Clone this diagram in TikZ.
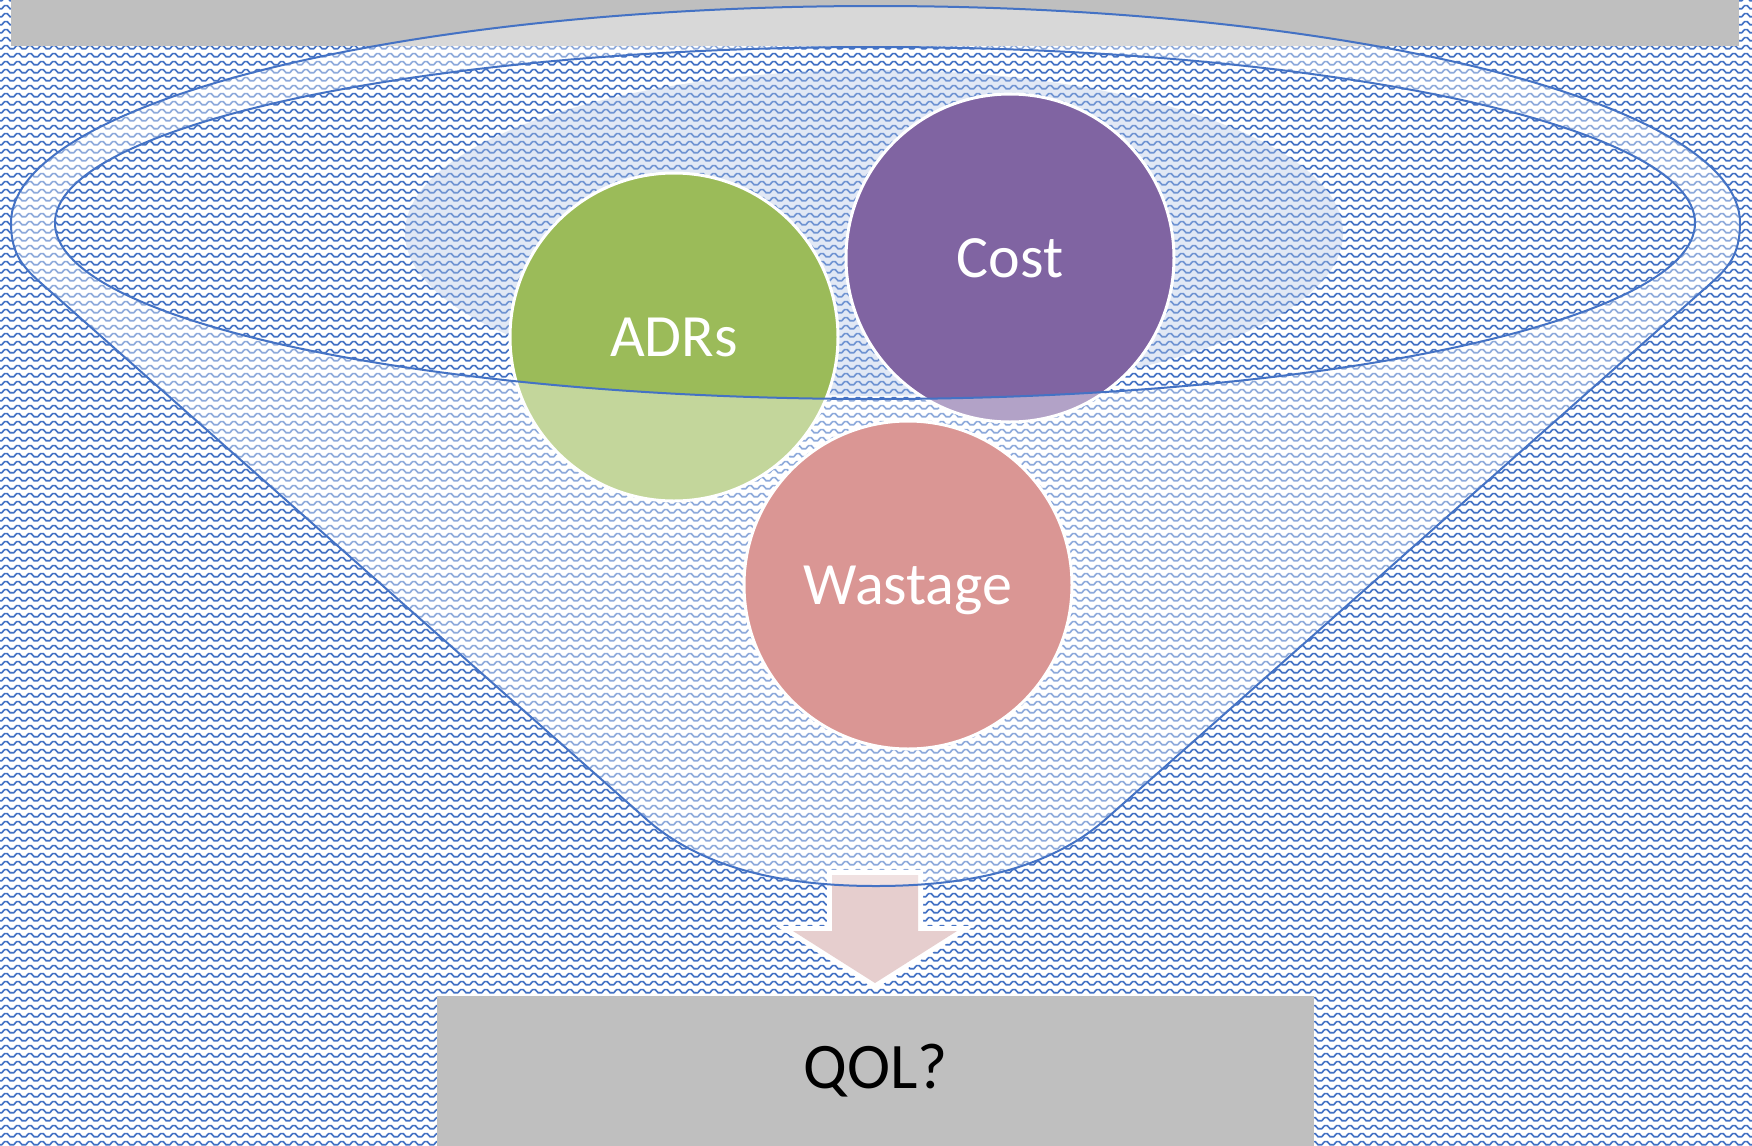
\documentclass[tikz,border=0pt]{standalone}
\usepackage{fontspec}
\setmainfont{Carlito}
\usetikzlibrary{patterns}

\definecolor{funnelblue}{HTML}{4472C4}
\definecolor{glowblue}{HTML}{B4C7E7}
\definecolor{boxgray}{HTML}{BFBFBF}
\definecolor{adrgreen}{HTML}{9BBB59}
\definecolor{costpurple}{HTML}{8064A2}
\definecolor{wasterose}{HTML}{DA9694}
\definecolor{arrowpink}{HTML}{E6CECE}

% stepped wave tile for the backdrop
\pgfdeclarepatternformonly{zigwave}{\pgfqpoint{0pt}{0pt}}{\pgfqpoint{6pt}{4pt}}{\pgfqpoint{6pt}{4pt}}{%
  \pgfsetlinewidth{0.9pt}%
  \pgfpathmoveto{\pgfqpoint{-3pt}{2.45pt}}%
  \pgfpathlineto{\pgfqpoint{-1.5pt}{2.45pt}}%
  \pgfpathlineto{\pgfqpoint{0pt}{0.7pt}}%
  \pgfpathlineto{\pgfqpoint{1.5pt}{0.7pt}}%
  \pgfpathlineto{\pgfqpoint{3pt}{2.45pt}}%
  \pgfpathlineto{\pgfqpoint{4.5pt}{2.45pt}}%
  \pgfpathlineto{\pgfqpoint{6pt}{0.7pt}}%
  \pgfpathlineto{\pgfqpoint{7.5pt}{0.7pt}}%
  \pgfpathlineto{\pgfqpoint{9pt}{2.45pt}}%
  \pgfusepath{stroke}%
}

\tikzset{
  bubble/.style={circle, draw=white, line width=1.5pt, minimum size=164pt,
    inner sep=0pt, text=white, text depth=0pt, font=\fontsize{30}{36}\selectfont},
  rimline/.style={draw=funnelblue, line width=1pt},
  veil/.style={fill=white, fill opacity=0.4},
}

\begin{document}
\begin{tikzpicture}[x=0.5pt, y=-0.5pt]
\useasboundingbox (0,0) rectangle (1752,1146);

% patterned backdrop
\fill[white] (0,0) rectangle (1752,1146);
\fill[pattern=zigwave, pattern color=funnelblue] (0,0) rectangle (1752,1146);

% top band and result box
\fill[boxgray] (11,0) rectangle (1739,46);
\node[fill=boxgray, minimum width=438.5pt, minimum height=75pt, inner sep=0pt,
      text=black, font=\fontsize{32.5}{39}\selectfont] (qol) at (875.5,1071) {QOL?};

% soft glow inside the funnel mouth
\fill[glowblue, opacity=0.4] (874,233) ellipse[x radius=469, y radius=163];

% factors sitting in the funnel mouth
\node[bubble, fill=adrgreen] (adrs) at (674,337) {ADRs};
\node[bubble, fill=costpurple] (cost) at (1010,258) {Cost};

% output arrow
\path[fill=arrowpink, preaction={draw=white, line width=5pt, line join=miter}]
  (832,875) -- (918,875) -- (918,931) -- (957,931) -- (875,983)
  -- (793,931) -- (832,931) -- cycle;

% funnel body: outer outline with the mouth cut out
\def\funnelpath{(11,223) arc[start angle=180, end angle=360, x radius=864.5, y radius=217]
  .. controls (1740,255) and (1728,268) .. (1710,284)
  -- (1107,818)
  .. controls (1047,872) and (960,886) .. (876,886)
  .. controls (792,886) and (705,872) .. (645,818)
  -- (42,284)
  .. controls (24,268) and (11,255) .. (11,223) -- cycle}
\path[veil, even odd rule] \funnelpath (875,223) ellipse[x radius=820, y radius=176];
\path[rimline] \funnelpath;
\path[rimline] (875,223) ellipse[x radius=820, y radius=176];

% factor in front of the funnel
\node[bubble, fill=wasterose] (waste) at (908,585) {Wastage};
\end{tikzpicture}
\end{document}
